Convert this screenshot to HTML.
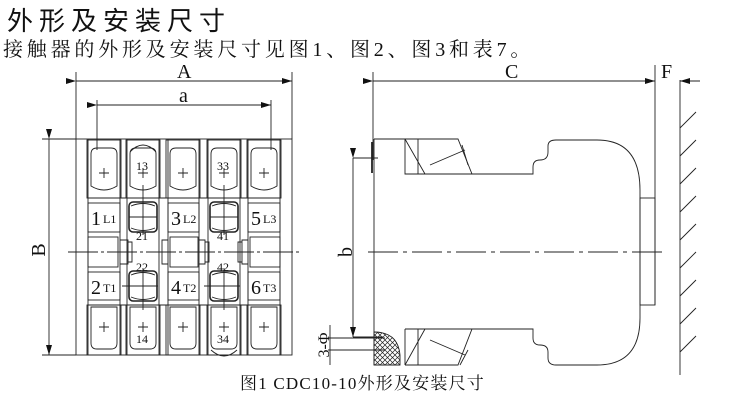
<!DOCTYPE html>
<html><head><meta charset="utf-8"><style>
html,body{margin:0;padding:0;background:#fff;}
body{width:750px;height:414px;overflow:hidden;position:relative;}
.t1{position:absolute;left:7px;top:1px;font:26px "Liberation Sans","Noto Sans CJK SC",sans-serif;letter-spacing:6px;color:#111;white-space:nowrap;}
.t2{position:absolute;left:3px;top:33px;font:20px "Liberation Serif","Noto Serif CJK SC",serif;letter-spacing:3.8px;color:#111;white-space:nowrap;}
svg{position:absolute;left:0;top:0;}
</style></head><body>
<div class="t1">外形及安装尺寸</div>
<div class="t2">接触器的外形及安装尺寸见图1、图2、图3和表7。</div>
<svg width="750" height="414" viewBox="0 0 750 414" font-family="Liberation Serif,Noto Serif CJK SC,serif">
<defs>
<marker id="ar" markerWidth="10" markerHeight="6" refX="10" refY="3" orient="auto" markerUnits="userSpaceOnUse"><path d="M0,0 L10,3 L0,6 z" fill="#111"/></marker>
<pattern id="hx" width="5" height="5" patternUnits="userSpaceOnUse"><path d="M0,0 L5,5 M5,0 L0,5" stroke="#222" stroke-width="0.7"/></pattern>
<g id="term">
<rect x="-17" y="0" width="34" height="58" fill="none"/>
<path d="M-13,14 Q-13,8 -7,8 L7,8 Q13,8 13,14 L13,46 Q0,54 -13,46 Z" fill="none"/>
<path d="M-5,33 h10 M0,28 v10" />
</g>
<g id="termb">
<rect x="-17" y="0" width="34" height="50" fill="none"/>
<path d="M-13,2 L13,2 L13,38 Q13,44 7,44 L-7,44 Q-13,44 -13,38 Z" fill="none"/>
<path d="M-5,22 h10 M0,17 v10" />
</g>
<g id="aux">
<rect x="-14" y="0" width="28" height="30" rx="4" fill="none" stroke-width="1.6"/>
<path d="M-12,4 Q0,-1 12,4 M-12,26 Q0,31 12,26" fill="none"/>
</g>
</defs>
<g stroke="#222" stroke-width="0.9" fill="none">
<line x1="76" y1="72" x2="76" y2="139"/><line x1="292" y1="72" x2="292" y2="139"/>
<line x1="76" y1="81" x2="292" y2="81" marker-start="url(#ar)" marker-end="url(#ar)"/>
<line x1="97" y1="100" x2="97" y2="150"/><line x1="271" y1="100" x2="271" y2="150"/>
<line x1="97" y1="105" x2="271" y2="105" marker-start="url(#ar)" marker-end="url(#ar)"/>
<line x1="42" y1="139" x2="76" y2="139"/><line x1="42" y1="355" x2="76" y2="355"/>
<line x1="49" y1="139" x2="49" y2="355" marker-start="url(#ar)" marker-end="url(#ar)"/>
<rect x="76" y="139" width="216" height="216"/>
<line x1="88" y1="139" x2="88" y2="355"/><line x1="280" y1="139" x2="280" y2="355"/>
<line x1="120" y1="139" x2="120" y2="355"/><line x1="127" y1="139" x2="127" y2="355"/>
<line x1="159" y1="139" x2="159" y2="355"/><line x1="168" y1="139" x2="168" y2="355"/>
<line x1="199" y1="139" x2="199" y2="355"/><line x1="208" y1="139" x2="208" y2="355"/>
<line x1="240" y1="139" x2="240" y2="355"/><line x1="248" y1="139" x2="248" y2="355"/>
<line x1="88" y1="198" x2="280" y2="198"/><line x1="88" y1="305" x2="280" y2="305"/>
<use href="#term" x="104" y="140"/><use href="#term" x="143" y="140"/><use href="#term" x="183" y="140"/><use href="#term" x="224" y="140"/><use href="#term" x="264" y="140"/>
<use href="#termb" x="104" y="305"/><use href="#termb" x="143" y="305"/><use href="#termb" x="183" y="305"/><use href="#termb" x="224" y="305"/><use href="#termb" x="264" y="305"/>
<path d="M130,152 Q143,138 156,152"/><path d="M211,350 Q224,362 237,350"/>
<rect x="88" y="203" width="32" height="29"/><rect x="168" y="203" width="31" height="29"/><rect x="248" y="203" width="32" height="29"/>
<rect x="88" y="272" width="32" height="28"/><rect x="168" y="272" width="31" height="28"/><rect x="248" y="272" width="32" height="28"/>
<rect x="88" y="237" width="30" height="30"/><rect x="170" y="237" width="28" height="30"/><rect x="250" y="237" width="30" height="30"/>
<path d="M120,240 h8 v24 h-8 M128,242 h4 v20 h-4"/><path d="M168,240 h-6 v24 h6"/>
<path d="M199,240 h6 v24 h-6 M205,242 h4 v20 h-4"/><path d="M248,240 h-6 v24 h6 M242,242 h-4 v20 h4"/>
<use href="#aux" x="143" y="202"/><use href="#aux" x="224" y="202"/><use href="#aux" x="143" y="271"/><use href="#aux" x="224" y="271"/>
<path d="M129,217 h28 M143,185 v50 M210,217 h28 M224,185 v50 M122,286 h36 M143,268 v42 M204,286 h36 M224,268 v42"/>
<line x1="68" y1="252" x2="300" y2="252" stroke-dasharray="30,3,3,3"/>
<line x1="373" y1="72" x2="373" y2="160"/><line x1="655" y1="65" x2="655" y2="305"/>
<line x1="373" y1="81" x2="655" y2="81" marker-start="url(#ar)" marker-end="url(#ar)"/>
<line x1="700" y1="81" x2="680" y2="81" marker-end="url(#ar)"/>
<line x1="680" y1="80" x2="680" y2="375"/>
<path d="M680,128 l16,-16 M680,156 l16,-16 M680,184 l16,-16 M680,212 l16,-16 M680,240 l16,-16 M680,268 l16,-16 M680,296 l16,-16 M680,324 l16,-16 M680,352 l16,-16"/>
<path d="M374,139 V365 M374,139 H458 L472,174 H533 V167 Q533,160 540,160 Q548,160 548,152 V146 Q548,140 556,140 H597 Q640,140 640,190 V318 Q640,365 597,365 H556 Q548,365 548,358 V352 Q548,345 540,345 Q533,345 533,338 V329 H472 L458,365 H405 M405,139 V174 H472 M405,329 V365 M405,329 H472"/>
<path d="M405,139 L425,174 M418,139 V174 M430,165 L465,150 M462,145 L468,165 M425,329 L405,365 M418,329 V365 M430,340 L465,355 M460,365 L468,350"/>
<path d="M372,142 V173" stroke-width="1.8"/>
<rect x="640" y="198" width="15" height="107"/>
<line x1="368" y1="252" x2="665" y2="252" stroke-dasharray="30,5,4,5"/>
<line x1="353" y1="158" x2="378" y2="158"/><line x1="353" y1="337" x2="383" y2="337"/>
<line x1="353" y1="158" x2="353" y2="337" marker-start="url(#ar)" marker-end="url(#ar)"/>
<path d="M374,332 Q398,332 400,355 V365 H374 Z" fill="url(#hx)"/>
<line x1="328" y1="338" x2="385" y2="338"/><line x1="328" y1="350" x2="385" y2="350"/>
<line x1="330" y1="325" x2="330" y2="365"/>
</g>
<g fill="#111" font-size="20">
<text x="177" y="78">A</text><text x="179" y="102">a</text>
<text x="505" y="78">C</text><text x="661" y="78">F</text>
<text x="45" y="250" transform="rotate(-90 45 250)" text-anchor="middle">B</text>
<text x="352" y="252" transform="rotate(-90 352 252)" text-anchor="middle">b</text>
<text x="329" y="345" transform="rotate(-90 329 345)" text-anchor="middle" font-size="16">3-Φ</text>
</g>
<g fill="#111" font-size="20">
<text x="91" y="225">1</text><text x="171" y="225">3</text><text x="251" y="225">5</text>
<text x="91" y="294">2</text><text x="171" y="294">4</text><text x="251" y="294">6</text>
</g>
<g fill="#111" font-size="12">
<text x="103" y="223">L1</text><text x="183" y="223">L2</text><text x="263" y="223">L3</text>
<text x="103" y="292">T1</text><text x="183" y="292">T2</text><text x="263" y="292">T3</text>
<text x="136" y="170">13</text><text x="217" y="170">33</text>
<text x="136" y="240">21</text><text x="217" y="240">41</text>
<text x="136" y="271">22</text><text x="217" y="271">42</text>
<text x="136" y="343">14</text><text x="217" y="343">34</text>
</g>
<text x="240" y="389" font-size="17" letter-spacing="1.2" fill="#111">图1 CDC10-10外形及安装尺寸</text>
</svg>
</body></html>
